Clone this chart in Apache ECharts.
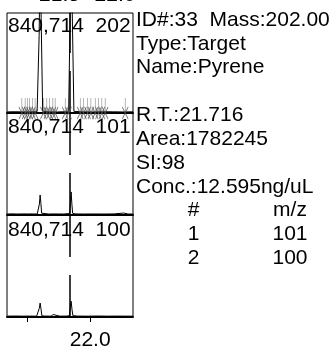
<!DOCTYPE html>
<html><head><meta charset="utf-8">
<script src="https://cdn.jsdelivr.net/npm/echarts@6/dist/echarts.min.js"></script>
<style>html,body{margin:0;padding:0;background:#fff}#c{width:330px;height:351px}</style>
</head><body><div id="c"></div>
<script>
const FONT = "'Liberation Sans', Arial, sans-serif";
const scaleMax = 840714;
const scaleLabel = '840,714';
const ionLabels = ['202', '101', '100'];
const tickValues = [21.5, 22.0];
const tickLabelValues = [22.0];
const topCutLabels = ['21.5', '22.0'];
const rtMarker = 21.841;

const ion202Times = [21.34, 21.40, 21.46, 21.52, 21.579, 21.595, 21.603, 21.611, 21.623, 21.68, 21.74, 21.80, 21.829, 21.841, 21.849, 21.857, 21.871, 21.94, 22.02, 22.10, 22.18, 22.26, 22.34];
const ion202Values = [9000, 11000, 9000, 10000, 12000, 650000, 1300000, 800000, 15000, 10000, 9000, 11000, 12000, 800000, 1500000, 900000, 14000, 10000, 9000, 11000, 10000, 9000, 10000];

const ion101Times = [21.34, 21.38, 21.42, 21.46, 21.50, 21.54, 21.58, 21.591, 21.597, 21.603, 21.609, 21.615, 21.63, 21.67, 21.700, 21.706, 21.712, 21.75, 21.79, 21.837, 21.843, 21.849, 21.855, 21.861, 21.88, 21.95, 22.03, 22.11, 22.19, 22.265, 22.275, 22.30, 22.34];
const ion101Values = [8000, 9500, 8000, 9000, 8500, 9000, 8000, 12000, 90000, 165000, 95000, 15000, 9000, 8000, 9000, 22000, 9000, 8500, 8000, 12000, 100000, 190000, 90000, 14000, 9000, 8000, 8500, 8000, 9000, 16000, 9000, 8000, 8000];

const ion100Times = [21.34, 21.40, 21.46, 21.52, 21.575, 21.589, 21.596, 21.603, 21.610, 21.617, 21.64, 21.69, 21.700, 21.706, 21.712, 21.76, 21.81, 21.835, 21.842, 21.849, 21.856, 21.863, 21.90, 21.98, 22.06, 22.14, 22.22, 22.30, 22.34];
const ion100Values = [7000, 8000, 7000, 7500, 7000, 10000, 70000, 115000, 65000, 10000, 7500, 7000, 8000, 20000, 8000, 7000, 7500, 10000, 80000, 130000, 60000, 11000, 7500, 7000, 8000, 7000, 7500, 7000, 7000];

const peakMarkTimes = [21.458, 21.484, 21.502, 21.518, 21.542, 21.563, 21.629, 21.656, 21.677, 21.704, 21.722, 21.802, 21.828, 21.921, 21.947, 21.979, 22.006, 22.040, 22.066, 22.093, 22.119, 22.278];

const infoLines = ['ID#:33  Mass:202.00', 'Type:Target', 'Name:Pyrene', '', 'R.T.:21.716', 'Area:1782245', 'SI:98', 'Conc.:12.595ng/uL'];
const tableHeader = ['#', 'm/z'];
const tableNo = ['1', '2'];
const tableMz = ['101', '100'];

const traces = [
  [ion202Times, ion202Values],
  [ion101Times, ion101Values],
  [ion100Times, ion100Values]
];

const gridBoxes = [
  {top: 13, height: 100},
  {top: 113, height: 102},
  {top: 215, height: 102}
];

const grids = gridBoxes.map(b => ({
  left: 7, width: 126, top: b.top, height: b.height,
  show: true, borderColor: '#000', borderWidth: 1, backgroundColor: 'transparent'
}));

const xAxes = gridBoxes.map((b, i) => {
  const isBottom = i === gridBoxes.length - 1;
  return {
    type: 'value', gridIndex: i, min: 21.34, max: 22.34,
    axisLine: {show: true, onZero: false, lineStyle: {color: '#000', width: 2}},
    splitLine: {show: false},
    axisTick: isBottom ? {show: true, length: 5, lineStyle: {color: '#000', width: 1}, customValues: tickValues} : {show: false},
    axisLabel: isBottom ? {show: true, customValues: tickLabelValues, formatter: v => Number(v).toFixed(1),
      fontSize: 21, fontFamily: FONT, color: '#000', margin: 13} : {show: false}
  };
});

const yAxes = gridBoxes.map((b, i) => ({
  type: 'value', gridIndex: i, min: 0, max: scaleMax, show: false
}));

const series = traces.map((tr, i) => ({
  type: 'line', xAxisIndex: i, yAxisIndex: i,
  data: tr[0].map((t, k) => [t, tr[1][k]]),
  showSymbol: false, symbol: 'none', clip: true,
  lineStyle: {color: '#000', width: 1},
  animation: false, silent: true,
  markLine: {
    silent: true, symbol: ['none', 'none'], label: {show: false},
    lineStyle: {color: '#000', width: 1.5, type: [42, 18]},
    data: [{xAxis: rtMarker}], animation: false
  }
}));

series.push({
  type: 'scatter', xAxisIndex: 0, yAxisIndex: 0,
  data: peakMarkTimes.map(t => [t, 0]),
  symbol: 'path://M3.5 0 L3.5 15 M0.5 9 L6.5 21 M6.5 9 L0.5 21',
  symbolSize: [6, 21], symbolOffset: [0, -4.5], clip: false,
  itemStyle: {color: 'transparent', borderColor: '#555', borderWidth: 1},
  animation: false, silent: true, z: 5
});

const graphics = [];
const panelBaselines = [33.5, 134.5, 238];
panelBaselines.forEach((bl, i) => {
  graphics.push({type: 'text', x: 8, y: bl - 7.3, z: 10,
    style: {text: scaleLabel + '  ' + ionLabels[i], font: '21px ' + FONT, fill: '#000', verticalAlign: 'middle', align: 'left'}});
});
[59.5, 115].forEach((cx, i) => {
  graphics.push({type: 'text', x: cx, y: 3 - 7.3,
    style: {text: topCutLabels[i], font: '21px ' + FONT, fill: '#000', verticalAlign: 'middle', align: 'center'}});
});
const pitch = 23.83, firstBl = 27.2;
infoLines.forEach((t, i) => {
  if (!t) return;
  graphics.push({type: 'text', x: 136, y: firstBl + pitch * i - 7.3,
    style: {text: t, font: '21px ' + FONT, fill: '#000', verticalAlign: 'middle', align: 'left'}});
});
const tableRows = [tableHeader, [tableNo[0], tableMz[0]], [tableNo[1], tableMz[1]]];
tableRows.forEach((row, r) => {
  const bl = firstBl + pitch * (8 + r);
  graphics.push({type: 'text', x: 193.5, y: bl - 7.3,
    style: {text: row[0], font: '21px ' + FONT, fill: '#000', verticalAlign: 'middle', align: 'center'}});
  graphics.push({type: 'text', x: 290, y: bl - 7.3,
    style: {text: row[1], font: '21px ' + FONT, fill: '#000', verticalAlign: 'middle', align: 'center'}});
});

const chart = echarts.init(document.getElementById('c'), null, {renderer: 'canvas'});
chart.setOption({
  animation: false,
  backgroundColor: '#fff',
  grid: grids,
  xAxis: xAxes,
  yAxis: yAxes,
  series: series,
  graphic: graphics
});
</script>
</body></html>
